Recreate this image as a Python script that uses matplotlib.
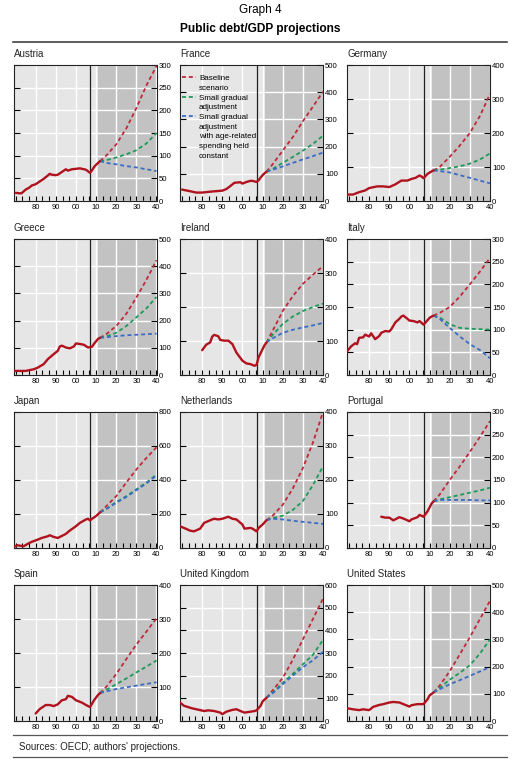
import matplotlib
matplotlib.use("Agg")
import matplotlib.pyplot as plt
from matplotlib.lines import Line2D
from matplotlib.ticker import MultipleLocator, FixedLocator

plt.rcParams['font.family'] = ['Liberation Sans', 'DejaVu Sans']

# projection years shared by all countries
proj_years = [2012, 2015, 2020, 2025, 2030, 2035, 2040]

countries = ["Austria", "France", "Germany",
             "Greece", "Ireland", "Italy",
             "Japan", "Netherlands", "Portugal",
             "Spain", "United Kingdom", "United States"]

ymax = [300, 500, 400, 500, 400, 300, 800, 400, 300, 400, 600, 500]
ystep = [50, 100, 100, 100, 100, 50, 200, 100, 50, 100, 100, 100]

# historical debt/GDP (year, value)
hist = {
    "Austria": ([1970, 1972, 1973, 1975, 1977, 1978, 1980, 1981, 1983, 1984, 1986, 1987, 1988,
                 1990, 1991, 1993, 1995, 1996, 1998, 2000, 2002, 2004, 2005, 2007, 2008, 2009,
                 2010, 2011, 2012],
                [18, 17, 17, 25, 30, 34, 37, 40, 46, 49, 56, 60, 58, 57, 58, 64, 70, 67, 70, 71,
                 72, 70, 69, 62, 68, 75, 80, 84, 88]),
    "France": ([1970, 1974, 1977, 1980, 1985, 1990, 1992, 1994, 1996, 1999, 2000, 2002, 2004,
                2005, 2007, 2008, 2009, 2010, 2011, 2012],
               [42, 36, 31, 31, 35, 38, 44, 55, 67, 69, 64, 70, 74, 74, 70, 76, 86, 95, 102, 108]),
    "Germany": ([1969, 1972, 1975, 1978, 1980, 1984, 1987, 1990, 1993, 1996, 1999, 2001, 2003,
                 2005, 2006, 2007, 2009, 2011, 2012],
                [19, 19, 26, 31, 38, 43, 43, 41, 49, 60, 60, 65, 68, 75, 72, 67, 80, 87, 90]),
    "Greece": ([1969, 1972, 1975, 1979, 1981, 1984, 1986, 1989, 1991, 1992, 1993, 1995, 1997,
                1999, 2000, 2002, 2004, 2006, 2008, 2009, 2010, 2011, 2012],
               [15, 15, 15, 21, 27, 40, 58, 77, 89, 105, 108, 101, 98, 105, 116, 114, 111, 101,
                104, 115, 124, 133, 137]),
    "Ireland": ([1980, 1982, 1984, 1985, 1986, 1988, 1989, 1991, 1993, 1995, 1997, 2000, 2002,
                 2004, 2006, 2007, 2008, 2010, 2011, 2012],
                [73, 89, 96, 113, 118, 114, 103, 101, 101, 91, 66, 42, 34, 32, 27, 30, 52, 76,
                 88, 96]),
    "Italy": ([1969, 1971, 1973, 1974, 1975, 1977, 1978, 1980, 1981, 1983, 1985, 1986, 1988,
               1990, 1991, 1993, 1995, 1996, 1997, 1999, 2000, 2002, 2004, 2005, 2007, 2008,
               2010, 2011, 2012],
              [52, 63, 70, 68, 82, 83, 89, 85, 92, 79, 86, 93, 97, 96, 101, 116, 124, 129, 131,
               124, 120, 119, 116, 119, 111, 116, 126, 129, 131]),
    "Japan": ([1969, 1971, 1974, 1976, 1978, 1981, 1983, 1986, 1987, 1989, 1991, 1992, 1995,
               1997, 2000, 2002, 2005, 2006, 2007, 2008, 2010, 2012],
              [6, 16, 10, 24, 36, 49, 59, 69, 75, 65, 59, 65, 83, 103, 128, 148, 168, 172, 162,
               172, 188, 210]),
    "Netherlands": ([1969, 1971, 1974, 1976, 1979, 1981, 1985, 1986, 1988, 1990, 1993, 1995,
                     1997, 2000, 2001, 2004, 2005, 2007, 2008, 2010, 2012],
                    [64, 59, 51, 49, 57, 74, 84, 86, 84, 86, 92, 86, 84, 69, 57, 59, 57, 49, 59,
                     69, 82]),
    "Portugal": ([1986, 1988, 1990, 1992, 1995, 1997, 2000, 2001, 2004, 2005, 2007, 2009, 2011,
                  2012],
                 [69, 67, 67, 61, 68, 65, 59, 63, 68, 73, 69, 81, 98, 103]),
    "Spain": ([1980, 1982, 1985, 1987, 1989, 1991, 1993, 1995, 1996, 1998, 2000, 2003, 2005,
               2007, 2009, 2011, 2012],
              [22, 35, 47, 47, 44, 49, 61, 64, 74, 71, 61, 54, 47, 41, 61, 77, 82]),
    "United Kingdom": ([1969, 1971, 1975, 1977, 1981, 1983, 1986, 1989, 1990, 1992, 1995, 1997,
                        1999, 2001, 2004, 2006, 2007, 2009, 2010, 2012],
                       [81, 67, 56, 52, 44, 47, 44, 37, 30, 41, 49, 52, 44, 37, 41, 44, 47, 67,
                        86, 103]),
    "United States": ([1969, 1972, 1975, 1977, 1980, 1982, 1985, 1987, 1990, 1992, 1995, 1997,
                       2000, 2001, 2004, 2007, 2009, 2010, 2012],
                      [47, 43, 40, 43, 40, 52, 59, 62, 68, 70, 68, 62, 53, 58, 62, 62, 80, 94,
                       105]),
}

# projections at proj_years
baseline = {
    "Austria": [88, 100, 125, 160, 205, 255, 298],
    "France": [108, 135, 185, 235, 293, 347, 402],
    "Germany": [90, 100, 130, 163, 200, 250, 315],
    "Greece": [137, 150, 180, 225, 285, 350, 422],
    "Ireland": [96, 130, 188, 232, 268, 295, 320],
    "Italy": [131, 137, 150, 173, 200, 228, 258],
    "Japan": [210, 245, 305, 385, 462, 530, 592],
    "Netherlands": [82, 95, 127, 175, 235, 310, 400],
    "Portugal": [103, 118, 150, 180, 212, 245, 280],
    "Spain": [82, 100, 138, 182, 225, 263, 302],
    "United Kingdom": [103, 135, 190, 270, 360, 450, 540],
    "United States": [105, 130, 183, 245, 308, 375, 442],
}
gradual = {
    "Austria": [88, 90, 96, 103, 112, 127, 150],
    "France": [108, 118, 140, 162, 185, 210, 240],
    "Germany": [90, 92, 97, 102, 110, 122, 140],
    "Greece": [137, 142, 155, 180, 212, 245, 287],
    "Ireland": [96, 118, 150, 172, 188, 200, 210],
    "Italy": [131, 127, 112, 104, 102, 101, 100],
    "Japan": [210, 230, 270, 305, 345, 385, 432],
    "Netherlands": [82, 88, 95, 112, 138, 185, 240],
    "Portugal": [103, 107, 112, 117, 122, 127, 133],
    "Spain": [82, 92, 108, 125, 143, 160, 178],
    "United Kingdom": [103, 125, 168, 208, 250, 292, 358],
    "United States": [105, 122, 152, 177, 205, 248, 300],
}
age_const = {
    "Austria": [88, 84, 81, 77, 74, 70, 66],
    "France": [108, 115, 127, 140, 153, 165, 178],
    "Germany": [90, 88, 84, 76, 68, 60, 52],
    "Greece": [137, 139, 143, 146, 148, 150, 152],
    "Ireland": [96, 108, 124, 133, 140, 146, 153],
    "Italy": [131, 124, 104, 85, 68, 55, 37],
    "Japan": [210, 228, 266, 300, 340, 380, 428],
    "Netherlands": [82, 86, 84, 80, 77, 74, 71],
    "Portugal": [103, 106, 106, 106, 106, 105, 105],
    "Spain": [82, 87, 94, 99, 104, 109, 114],
    "United Kingdom": [103, 122, 162, 200, 237, 268, 305],
    "United States": [105, 117, 135, 150, 166, 182, 198],
}

# legend text, one line per row (handle only on first line of each entry)
legend_lines = ["Baseline", "scenario", "Small gradual", "adjustment", "Small gradual",
                "adjustment", "with age-related", "spending held", "constant"]

RED = "#b0121e"
RED_D = "#c02838"
GREEN = "#1c9a58"
BLUE = "#3a6cc6"
LIGHT = "#e6e6e6"
DARK = "#c2c2c2"

W, H = 520, 768
fig = plt.figure(figsize=(W / 100, H / 100), dpi=100)

col_left = [13.5, 180, 347]
row_top = [65, 239, 412, 585]
pw, ph = 143, 136

dash = (2.2, 1.6)

for i, name in enumerate(countries):
    r, c = divmod(i, 3)
    ax = fig.add_axes([col_left[c] / W, 1 - (row_top[r] + ph) / H, pw / W, ph / H])
    ax.set_facecolor(LIGHT)
    ax.axvspan(2011, 2040, color=DARK, lw=0, zorder=0)
    ax.set_xlim(1969, 2040)
    ax.set_ylim(0, ymax[i])

    ax.xaxis.set_major_locator(FixedLocator(list(range(1980, 2041, 10))))
    ax.xaxis.set_minor_locator(MultipleLocator(10 / 3))
    ax.set_xticklabels([f"{y % 100:02d}" for y in range(1980, 2041, 10)])
    ax.yaxis.set_major_locator(MultipleLocator(ystep[i]))

    ax.grid(True, which="major", color="white", lw=1.0, zorder=1)
    ax.set_axisbelow(True)

    ax.tick_params(axis="y", which="both", direction="in", left=True, right=True,
                   labelleft=False, labelright=True, length=4, width=0.8,
                   labelsize=5.6, pad=1.5, colors="black")
    ax.tick_params(axis="x", which="both", direction="in", top=False, bottom=True,
                   length=3.5, width=0.8, labelsize=5.5, pad=2.5)
    for s in ax.spines.values():
        s.set_linewidth(0.8)
        s.set_color("#222222")

    ax.axvline(2007, color="#222222", lw=0.9, zorder=3)

    l1, = ax.plot(proj_years, baseline[name], color=RED_D, lw=1.3, dashes=dash, zorder=4)
    l2, = ax.plot(proj_years, gradual[name], color=GREEN, lw=1.3, dashes=dash, zorder=4)
    l3, = ax.plot(proj_years, age_const[name], color=BLUE, lw=1.3, dashes=dash, zorder=4)
    hx, hy = hist[name]
    ax.plot(hx, hy, color=RED, lw=1.7, zorder=5, solid_capstyle="round")

    ax.text(0, 1.0 + 11 / ph, name, transform=ax.transAxes, fontsize=7,
            ha="left", va="center", color="#222222")

    if name == "France":
        blank = Line2D([], [], color="none")
        handles = [l1, blank, l2, blank, l3, blank, blank, blank, blank]
        ax.legend(handles=handles, labels=legend_lines, loc="upper left", frameon=False,
                  fontsize=5.8, handlelength=1.7, handletextpad=0.35, labelspacing=0.26,
                  borderaxespad=0.0, borderpad=0.3, bbox_to_anchor=(0.0, 1 - 7 / ph))

fig.text(0.5, 1 - 9.5 / H, "Graph 4", ha="center", va="center", fontsize=8.5)
fig.text(0.5, 1 - 29 / H, "Public debt/GDP projections", ha="center", va="center",
         fontsize=8.6, fontweight="bold")
fig.add_artist(Line2D([13 / W, 507 / W], [1 - 42 / H] * 2, color="#333333", lw=1.1))
fig.add_artist(Line2D([13 / W, 507 / W], [1 - 735 / H] * 2, color="#555555", lw=0.9))
fig.add_artist(Line2D([13 / W, 507 / W], [1 - 756.5 / H] * 2, color="#555555", lw=0.9))
fig.text(19 / W, 1 - 746.5 / H, "Sources: OECD; authors' projections.", ha="left",
         va="center", fontsize=7, color="#222222")

fig.savefig("out.png", dpi=100)
